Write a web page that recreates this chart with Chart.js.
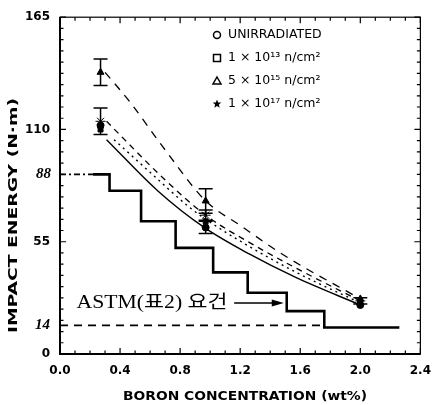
<!DOCTYPE html>
<html>
<head>
<meta charset="utf-8">
<script src="https://cdn.jsdelivr.net/npm/chart.js@4.4.0/dist/chart.umd.min.js"></script>
<style>
  html, body { margin: 0; padding: 0; background: #fff; }
  #wrap { width: 441px; height: 405px; }
</style>
</head>
<body>
<div id="wrap"><canvas id="chart"></canvas></div>
<script>
// measured points (boron wt%, impact energy N.m)
var boronPts = [0.27, 0.97, 2.0];
var unirrE = [112, 62, 24];
var e13E = [110, 65, 25];
var e15E = [138, 75, 27];
var e17E = [114, 68, 26];
var unirrErr = [0, 3, 0];
var e13Err = [0, 0, 0];
var e15Err = [6.5, 6, 0];
var e17Err = [6.5, 2.5, 1.5];

// fitted curves
var unirrFitX = [0.31, 0.65, 0.96, 1.26, 1.57, 2.0];
var unirrFitY = [105, 80, 62, 49, 37.5, 24];
var e13FitX = [0.36, 0.60, 0.86, 0.97, 1.30, 1.60, 2.0];
var e13FitY = [105, 89, 72, 66, 51, 39, 25];
var e15FitX = [0.30, 0.46, 0.70, 0.97, 1.20, 1.50, 2.0];
var e15FitY = [138, 124, 100, 75, 63, 48, 27];
var e17FitX = [0.31, 0.69, 0.97, 1.30, 1.60, 2.0];
var e17FitY = [114, 86, 68, 53, 41, 26];

// ASTM requirement (step)
var astmX = [0.22, 0.33, 0.54, 0.77, 1.02, 1.25, 1.51, 1.76, 2.26];
var astmY = [88, 80, 65, 52, 40, 30, 21, 13, 13];
var ref88X = [0, 0.22];
var ref14X = [0, 1.76];

var legendLabels = ['UNIRRADIATED', '1 \u00d7 10\u00b9\u00b3 n/cm\u00b2', '5 \u00d7 10\u00b9\u2075 n/cm\u00b2', '1 \u00d7 10\u00b9\u2077 n/cm\u00b2'];
var yTickLabels = [0, 55, 110, 165];

function pts(xs, ys) {
  return xs.map(function (x, i) { return { x: x, y: ys[i] }; });
}

function lineSet(xs, ys, dash, width) {
  return {
    data: pts(xs, ys), showLine: true, pointRadius: 0, borderColor: '#000',
    borderWidth: width || 1.3, borderDash: dash || [], cubicInterpolationMode: 'monotone', fill: false
  };
}

function markerSet(ys, style, r, err) {
  return {
    data: pts(boronPts, ys), showLine: false, pointStyle: style, pointRadius: r,
    backgroundColor: '#000', borderColor: '#000', borderWidth: 1, errs: err
  };
}

function fitText(ctx, text, x, y, w) {
  var m = ctx.measureText(text).width;
  ctx.save();
  ctx.translate(x, y);
  ctx.scale(w / m, 1);
  ctx.fillText(text, 0, 0);
  ctx.restore();
}

var overlay = {
  id: 'overlay',
  afterDatasetsDraw: function (chart) {
    var ctx = chart.ctx, xs = chart.scales.x, ys = chart.scales.y;
    ctx.save();
    ctx.strokeStyle = '#000';
    ctx.lineWidth = 1.5;
    chart.data.datasets.forEach(function (ds) {
      if (!ds.errs) return;
      ds.data.forEach(function (p, i) {
        var e = ds.errs[i];
        if (!e) return;
        var px = xs.getPixelForValue(p.x);
        var hi = ys.getPixelForValue(p.y + e), lo = ys.getPixelForValue(p.y - e);
        ctx.beginPath();
        ctx.moveTo(px, hi); ctx.lineTo(px, lo);
        ctx.moveTo(px - 7, hi); ctx.lineTo(px + 7, hi);
        ctx.moveTo(px - 7, lo); ctx.lineTo(px + 7, lo);
        ctx.stroke();
      });
    });
    ctx.restore();
  },
  afterDraw: function (chart) {
    var ctx = chart.ctx, a = chart.chartArea, xs = chart.scales.x, ys = chart.scales.y;
    ctx.save();
    ctx.strokeStyle = '#000';
    ctx.fillStyle = '#000';
    // frame
    ctx.lineWidth = 1.2;
    ctx.strokeRect(a.left, a.top, a.right - a.left, a.bottom - a.top);
    ctx.lineWidth = 2;
    ctx.beginPath();
    ctx.moveTo(a.left, a.top); ctx.lineTo(a.left, a.bottom); ctx.lineTo(a.right, a.bottom);
    ctx.stroke();
    // inward ticks
    ctx.lineWidth = 1.2;
    ctx.beginPath();
    for (var i = 0; i <= 30; i++) {
      var py = ys.getPixelForValue(i * 5.5);
      var len = i % 10 === 0 ? 6 : 3.5;
      ctx.moveTo(a.left, py); ctx.lineTo(a.left + len, py);
      ctx.moveTo(a.right, py); ctx.lineTo(a.right - len, py);
    }
    for (var j = 0; j <= 24; j++) {
      var px = xs.getPixelForValue(j * 0.1);
      var l2 = j % 4 === 0 ? 6 : 3.5;
      ctx.moveTo(px, a.bottom); ctx.lineTo(px, a.bottom - l2);
      ctx.moveTo(px, a.top); ctx.lineTo(px, a.top + l2);
    }
    ctx.stroke();

    // axis titles
    ctx.font = 'bold 12px "DejaVu Sans"';
    ctx.textAlign = 'left';
    ctx.textBaseline = 'middle';
    fitText(ctx, 'BORON CONCENTRATION (wt%)', 123, 397, 244);
    ctx.save();
    ctx.translate(14, 333);
    ctx.rotate(-Math.PI / 2);
    fitText(ctx, 'IMPACT ENERGY (N\u00b7m)', 0, 0, 235);
    ctx.restore();

    // handwritten level marks
    ctx.font = 'bold italic 15px "Liberation Serif"';
    ctx.textAlign = 'right';
    ctx.fillText('88', 51, ys.getPixelForValue(88));
    ctx.fillText('14', 50, ys.getPixelForValue(14));

    // legend
    var sx = 217, tx = 228, rows = [35, 58, 81, 104];
    ctx.font = '12.5px "DejaVu Sans"';
    ctx.textAlign = 'left';
    ctx.lineWidth = 1.5;
    legendLabels.forEach(function (t, k) {
      var y = rows[k];
      ctx.beginPath();
      if (k === 0) { ctx.arc(sx, y, 3.5, 0, Math.PI * 2); ctx.stroke(); }
      else if (k === 1) { ctx.strokeRect(sx - 3.5, y - 3.5, 7, 7); }
      else if (k === 2) { ctx.moveTo(sx, y - 4); ctx.lineTo(sx + 4, y + 3); ctx.lineTo(sx - 4, y + 3); ctx.closePath(); ctx.stroke(); }
      else {
        for (var s = 0; s < 10; s++) {
          var r = s % 2 ? 2 : 4.5, ang = -Math.PI / 2 + s * Math.PI / 5;
          ctx.lineTo(sx + r * Math.cos(ang), y + r * Math.sin(ang));
        }
        ctx.closePath(); ctx.fill();
      }
      ctx.fillText(t, tx, y);
    });

    // ASTM annotation
    var ay = ys.getPixelForValue(25);
    ctx.font = '18px "Liberation Serif", "Noto Sans CJK KR"';
    ctx.textAlign = 'left';
    fitText(ctx, 'ASTM(\ud45c2) \uc694\uac74', xs.getPixelForValue(0.11), ay, 151);
    var ax0 = xs.getPixelForValue(1.16), ax1 = xs.getPixelForValue(1.49);
    ctx.lineWidth = 1.5;
    ctx.beginPath();
    ctx.moveTo(ax0, ay); ctx.lineTo(ax1 - 8, ay);
    ctx.stroke();
    ctx.beginPath();
    ctx.moveTo(ax1, ay); ctx.lineTo(ax1 - 12, ay - 3.5); ctx.lineTo(ax1 - 12, ay + 3.5); ctx.closePath();
    ctx.fill();
    ctx.restore();
  }
};

var ctx = document.getElementById('chart').getContext('2d');
var chart = new Chart(ctx, {
  type: 'scatter',
  data: {
    datasets: [
      lineSet(astmX, astmY, [], 2.6),
      lineSet(ref88X, [88, 88], [6, 3, 2, 3], 1.6),
      lineSet(ref14X, [14, 14], [8, 6], 1.6),
      lineSet(unirrFitX, unirrFitY, [], 1.4),
      lineSet(e13FitX, e13FitY, [2, 4], 1.4),
      lineSet(e15FitX, e15FitY, [8, 7], 1.3),
      lineSet(e17FitX, e17FitY, [6, 5], 1.3),
      markerSet(unirrE, 'circle', 3.5, unirrErr),
      markerSet(e13E, 'rect', 3.5, e13Err),
      markerSet(e15E, 'triangle', 4, e15Err),
      markerSet(e17E, 'star', 5, e17Err)
    ]
  },
  options: {
    animation: false,
    responsive: true,
    maintainAspectRatio: false,
    layout: { padding: { top: 14, right: 13, left: 0, bottom: 0 } },
    plugins: { legend: { display: false }, tooltip: { enabled: false } },
    scales: {
      x: {
        type: 'linear', min: 0, max: 2.4,
        grid: { display: false, drawTicks: false },
        border: { display: false },
        ticks: {
          stepSize: 0.4, padding: 10, color: '#000',
          font: { family: 'DejaVu Sans', size: 12, weight: 'bold' },
          callback: function (v) { return v.toFixed(1); }
        },
        afterFit: function (s) { s.height = 51; }
      },
      y: {
        type: 'linear', min: 0, max: 165,
        grid: { display: false, drawTicks: false },
        border: { display: false },
        afterBuildTicks: function (s) { s.ticks = yTickLabels.map(function (v) { return { value: v }; }); },
        ticks: {
          padding: 10, color: '#000',
          font: { family: 'DejaVu Sans', size: 12, weight: 'bold' }
        },
        afterFit: function (s) { s.width = 60; }
      }
    }
  },
  plugins: [overlay]
});
// step line
chart.data.datasets[0].stepped = true;
chart.data.datasets[0].cubicInterpolationMode = 'default';
chart.update();
</script>
</body>
</html>
